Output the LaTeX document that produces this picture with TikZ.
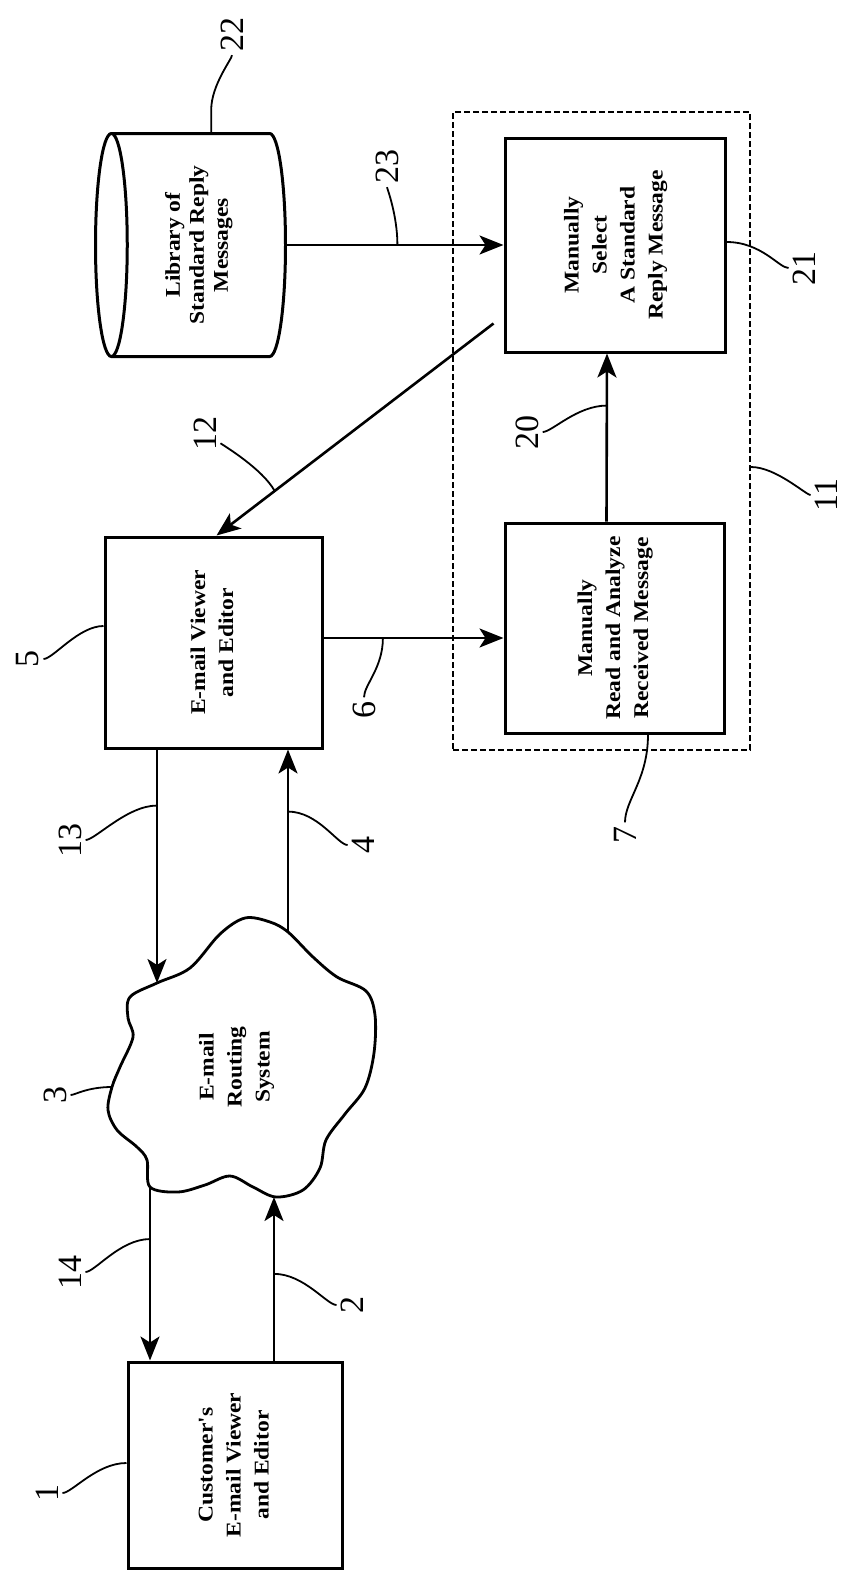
\documentclass[tikz,border=0pt]{standalone}
\usepackage{fontspec}
\usepackage{graphicx}
\setmainfont{Liberation Serif}
\newfontfamily\boxfont{Liberation Serif}[FakeStretch=1.12]
\usetikzlibrary{shapes.geometric, arrows.meta, fit}
\newcommand{\vtext}[1]{\rotatebox{90}{\begin{tabular}{@{}c@{}}#1\end{tabular}}}
\tikzset{
  box/.style   = {rectangle, draw, line width=3pt, inner sep=0pt,
                  font=\boxfont\bfseries\fontsize{21}{28}\selectfont},
  store/.style = {cylinder, shape border rotate=180, aspect=0.2, draw,
                  line width=3pt, inner sep=0pt,
                  font=\boxfont\bfseries\fontsize{21}{24}\selectfont},
  plain/.style = {inner sep=0pt, font=\boxfont\bfseries\fontsize{21}{28}\selectfont},
  zone/.style  = {draw, line width=2pt, dash pattern=on 6pt off 3pt, inner sep=0pt},
  num/.style   = {rotate=90, inner sep=4pt, font=\fontsize{34}{34}\selectfont},
  wire/.style  = {line width=2.8pt},
  lead/.style  = {line width=1.8pt},
  arr/.style   = {line width=2.6pt, -{Stealth[length=24pt,width=19pt,inset=6pt]}},
}
\begin{document}
\begin{tikzpicture}[x=1pt, y=-1pt]
  \path[use as bounding box, fill=white] (0,0) rectangle (849,1572);

  % Modules
  % (the cylinder takes its height along its axis)
  \node[store, minimum width=223pt, minimum height=190pt, anchor=east] (lib) at (287,245)
    {\vtext{Library of\\Standard Reply\\Messages}};
  \node[box, minimum width=220pt, minimum height=214pt] (select) at (615,245)
    {\vtext{Manually\\Select\\A Standard\\Reply Message}};
  \node[box, minimum width=219pt, minimum height=210pt] (read) at (614.5,628)
    {\vtext{Manually\\Read and Analyze\\Received Message}};
  \node[box, minimum width=217pt, minimum height=211pt] (viewer) at (213.5,642.5)
    {\vtext{E-mail Viewer\\and Editor}};
  \node[box, minimum width=214pt, minimum height=206pt] (cust) at (235,1465)
    {\vtext{Customer's\\E-mail Viewer\\and Editor}};

  % Routing cloud
  \draw[wire] plot[smooth cycle, tension=0.55] coordinates {
    (130,997) (157,983) (190,968) (220,934) (245,918) (270,922) (288,932)
    (313,957) (337,977) (366,991) (375,1015) (374,1053) (365,1088)
    (345,1114) (326,1140) (320,1168) (303,1190) (276,1197) (253,1187)
    (230,1176) (205,1185) (178,1192) (150,1187) (147,1160) (137,1147)
    (117,1130) (108,1110) (112,1087) (120,1067) (133,1037) (128,1018)};
  \node[plain] (route) at (236,1067) {\vtext{E-mail\\Routing\\System}};
  \coordinate (c13) at (157,983);
  \coordinate (c4)  at (288,932);
  \coordinate (c14) at (150,1187);
  \coordinate (c2)  at (274,1197);
  \coordinate (c3)  at (112,1087);

  % Zone
  \node[zone, fit={(453,112) (750,750)}] (grp) {};

  % Arrows
  \draw[arr] (lib.east) -- coordinate[pos=0.51] (k23) (lib.east -| select.west);
  \draw[arr] ([xshift=-8pt]read.north) -- coordinate[pos=0.69] (k20) ([xshift=-8pt]select.south);
  \draw[arr] ([xshift=-10pt,yshift=30pt]select.south west) -- coordinate[pos=0.79] (k12) ([xshift=3pt]viewer.north);
  \coordinate (s6) at ([yshift=4.5pt]viewer.east);
  \draw[arr] (s6) -- coordinate[pos=0.33] (k6) (s6 -| read.west);
  \draw[arr] (c13 |- viewer.south) -- coordinate[pos=0.24] (k13) (c13);
  \draw[arr] (c4) -- coordinate[pos=0.66] (k4) (c4 |- viewer.south);
  \draw[arr] (c14) -- coordinate[pos=0.30] (k14) (c14 |- cust.north);
  \draw[arr] (c2 |- cust.north) -- coordinate[pos=0.53] (k2) (c2);

  % Reference numerals
  \node[num] (l22) at (232,34)  {22};
  \node[num] (l23) at (387,166) {23};
  \node[num] (l12) at (205,433) {12};
  \node[num] (l20) at (527,432) {20};
  \node[num] (l21) at (804,268) {21};
  \node[num] (l11) at (826,495) {11};
  \node[num] (l5)  at (28,659)  {5};
  \node[num] (l6)  at (364,710) {6};
  \node[num] (l7)  at (625,835) {7};
  \node[num] (l13) at (70,840)  {13};
  \node[num] (l4)  at (363,845) {4};
  \node[num] (l3)  at (55,1095) {3};
  \node[num] (l14) at (70,1272) {14};
  \node[num] (l2)  at (352,1305) {2};
  \node[num] (l1)  at (47,1493) {1};

  % Leaders
  \draw[lead] ([xshift=12pt]lib.north) -- ++(0,-22) .. controls +(0,-25) and +(0,25) .. (l22);
  \draw[lead] (k23) .. controls +(0,-30) and +(0,22) .. (l23);
  \draw[lead] (k12) .. controls +(-12,-22) and +(18,12) .. (l12);
  \draw[lead] (k20) .. controls +(-30,0) and +(25,0) .. (l20);
  \draw[lead] ([yshift=3pt]select.east) .. controls +(35,0) and +(-25,0) .. (l21);
  \draw[lead] ([yshift=-36pt]grp.east) .. controls +(25,0) and +(-20,0) .. (l11);
  \draw[lead] ([yshift=16.5pt]viewer.west) .. controls +(-25,0) and +(25,0) .. (l5);
  \draw[lead] (k6) .. controls +(0,30) and +(0,-25) .. (l6);
  \draw[lead] ([xshift=33.5pt]read.south) .. controls +(0,45) and +(0,-35) .. (l7);
  \draw[lead] (k13) .. controls +(-30,0) and +(25,0) .. (l13);
  \draw[lead] (k4) .. controls +(30,0) and +(-25,0) .. (l4);
  \draw[lead] (c3) .. controls +(-25,0) and +(20,0) .. (l3);
  \draw[lead] (k14) .. controls +(-30,0) and +(25,0) .. (l14);
  \draw[lead] (k2) .. controls +(30,0) and +(-25,0) .. (l2);
  \draw[lead] ([yshift=2pt]cust.west) .. controls +(-30,0) and +(25,0) .. (l1);
\end{tikzpicture}
\end{document}
